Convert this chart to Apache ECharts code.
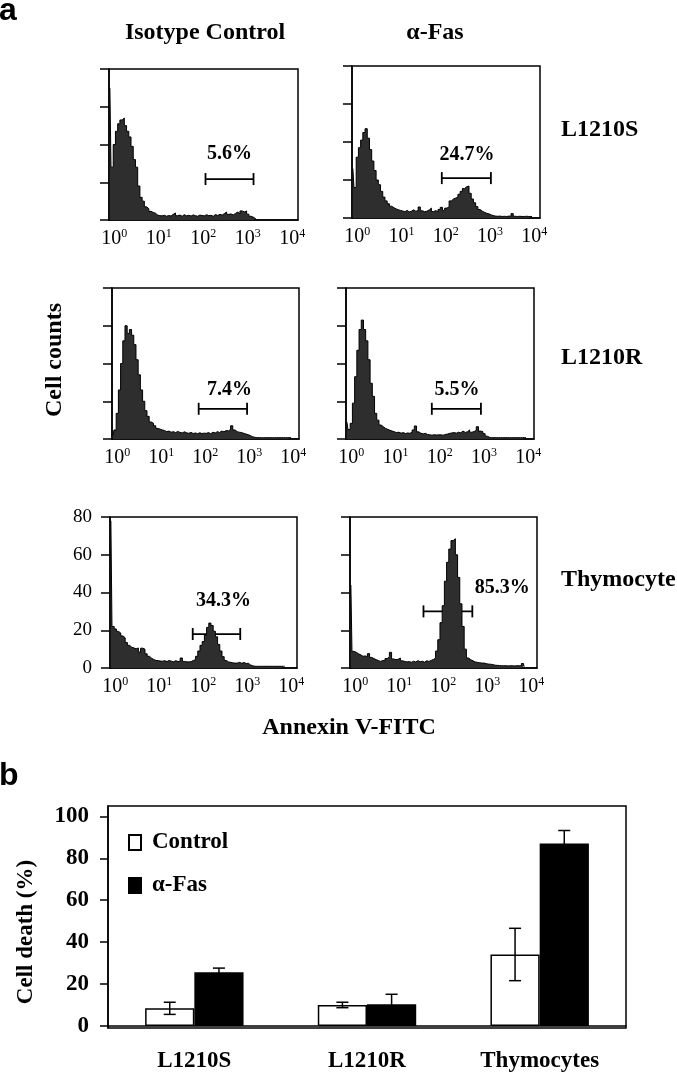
<!DOCTYPE html>
<html>
<head>
<meta charset="utf-8">
<script src="https://cdn.jsdelivr.net/npm/echarts@6/dist/echarts.min.js"></script>
<style>
  html, body { margin: 0; padding: 0; background: #fff; }
  #chart { width: 677px; height: 1077px; }
</style>
</head>
<body>
<div id="chart"></div>
<script>
const SERIF = '"Liberation Serif", "DejaVu Serif", serif';
const SANS = '"Liberation Sans", Arial, sans-serif';

// ---- panel a: Annexin V-FITC histograms (x in log10 decades, y = cell counts)
const binStart = -0.1;
const binStep = 0.05;
const decadeTicks = [0, 1, 2, 3, 4];

const histIsoS = [
  70, 28, 40, 47, 51, 53, 54, 50, 47, 44,
  39, 32, 28, 18, 12, 10, 7, 6, 4.6, 4,
  3.6, 2.6, 2.3, 2.2, 2.5, 2, 2.4, 2.1, 3, 3.7,
  2.3, 2.6, 2, 2.8, 2.2, 2.5, 2.1, 2.7, 2.3, 2.0,
  2.6, 2.4, 2.2, 2.8, 2.3, 2.5, 2.0, 2.9, 2.4, 3.0,
  2.6, 3.4, 4.2, 3.0, 3.2, 2.7, 3.5, 4.2, 3.3, 4.8,
  4.3, 4.8, 3.1, 2.0, 1.5, 0.8, 0
];
const histFasS = [
  26, 16, 32, 37, 41, 45, 47, 42, 36, 30,
  25, 20, 17.5, 14, 11, 9, 7.5, 6.2, 5.5, 4.8,
  4.4, 4, 3.7, 3.3, 4.0, 3.2, 3.6, 4.3, 3.5, 4.0,
  5.8, 3.8, 3.3, 3.6, 4.2, 5.2, 3.4, 3.9, 3.2, 4.5,
  5.6, 4.0, 5.2, 5.8, 9, 10, 10.5, 11, 12.5, 14,
  15.5, 16.5, 16.8, 13, 10, 8, 6, 4.5, 3.6, 3,
  2.5, 2.2, 1.6, 1.3, 1.0, 0.9, 1.0, 0.8, 0.9, 0.8,
  1.0, 0.9, 2.3, 0.9, 0.8, 0.9, 0.8, 0.8, 0.9, 0.8,
  0.8, 0.8
];
const histIsoR = [
  2, 4.8, 13.6, 26, 40, 52, 60, 56, 58, 55,
  50, 42, 34, 26, 20, 15, 12, 9, 8.3, 7,
  5.6, 5.2, 4.8, 4.5, 3.9, 4.2, 3.6, 3.9, 3.4, 4.0,
  3.5, 3.2, 3.8, 3.3, 3.0, 3.5, 2.9, 3.2, 2.8, 3.3,
  2.9, 3.1, 3.0, 3.4, 2.8, 3.6, 3.2, 3.9, 3.5, 4.2,
  3.8, 4.5, 4.3, 5.0, 7.0, 4.8, 3.9, 3.6, 3.4, 3.0,
  2.6, 2.3, 1.8, 1.2, 0.9, 0.7, 0.7, 0.7, 0.7, 0.7,
  0.7, 0.7, 0.7, 0.7, 0.7, 0.7, 0.7, 0.7, 0.7, 0.7,
  0.7, 0.7
];
const histFasR = [
  9, 5, 8.3, 19, 33, 47, 58, 63, 58, 52,
  42, 29.5, 22.6, 13.6, 10, 7.4, 6.5, 5.6, 5.1, 4.6,
  4.2, 3.8, 3.4, 3.6, 3.1, 3.4, 2.9, 3.2, 3.0, 3.6,
  4.8, 6.9, 3.8, 3.0, 2.7, 3.0, 2.4, 2.2, 2.0, 2.3,
  2.1, 2.2, 2.2, 2.0, 2.4, 2.6, 3.0, 3.2, 3.4, 3.1,
  3.6, 3.3, 4.2, 3.5, 3.8, 4.8, 3.6, 3.9, 4.6, 6.5,
  4.2, 3.9, 2.8, 1.5, 0.9, 0.7, 0.7, 0.7, 0.7, 0.7,
  0.7, 0.7, 0.7, 0.7, 0.7, 0.7, 0.7, 0.7, 0.7, 0.7,
  0.7, 0.7
];
const histIsoT = [
  78, 22, 20.7, 19.4, 18.5, 17, 16, 13.5, 12, 11,
  10.6, 10.2, 10.6, 8.5, 10.5, 10, 7.5, 6.2, 5.2, 4.5,
  4.0, 3.9, 3.7, 3.6, 3.9, 3.4, 4.0, 3.6, 3.3, 3.9,
  3.4, 3.6, 5.3, 3.5, 3.3, 3.2, 3.4, 4.0, 4.5, 6.2,
  9, 12, 14, 17.5, 21.5, 23.8, 22.5, 19.5, 16.5, 12.5,
  9, 6, 4, 3.2, 3, 2.7, 2.6, 2.6, 3.0, 2.5,
  2.9, 2.4, 2.5, 1.6, 1.2, 0.9, 0.9, 0.9, 0.9, 0.9,
  0.9, 0.9, 0.9, 0.9, 0.9, 0.9, 0.9, 0.9, 0.9, 0.9
];
const histFasT = [
  44, 8.8, 8.3, 7.5, 7.0, 6.2, 6.4, 6.0, 7.6, 5.6,
  5.0, 4.4, 4.0, 3.5, 4.0, 3.8, 5.0, 6.0, 8.3, 4.8,
  4.4, 4.6, 5.3, 3.8, 3.5, 3.2, 3.4, 3.0, 3.6, 3.2,
  3.9, 3.3, 3.6, 3.1, 3.8, 3.5, 4.0, 4.5, 5.3, 9,
  15, 24, 33, 46, 56, 63, 67.5, 68.5, 60, 48,
  34, 22, 10, 5.3, 4.4, 3.8, 3.2, 3.0, 2.8, 2.6,
  2.6, 2.3, 2.1, 2.0, 1.8, 1.5, 1.4, 1.3, 1.2, 1.2,
  1.2, 1.1, 1.2, 1.2, 1.1, 1.2, 1.2, 1.2, 2.4, 1.0
];

// order: L1210S iso, L1210S fas, L1210R iso, L1210R fas, thymocyte iso, thymocyte fas
const histograms = [histIsoS, histFasS, histIsoR, histFasR, histIsoT, histFasT];
const gateLo = [2.05, 1.91, 1.85, 1.82, 1.76, 1.55];
const gateHi = [3.13, 3.02, 2.95, 2.93, 2.84, 2.66];
const gateY = [21.7, 21, 16, 16, 18, 30];
const gateText = ['5.6%', '24.7%', '7.4%', '5.5%', '34.3%', '85.3%'];
const gateTextX = [2.59, 2.48, 2.55, 2.39, 2.46, 3.34];
const gateTextY = [35, 33, 26, 26, 35.5, 42.4];

// ---- panel b: cell death bars
const cellLines = ['L1210S', 'L1210R', 'Thymocytes'];
const controlDeath = [8.4, 10.0, 34.1];
const controlErr = [2.9, 1.3, 12.5];
const fasDeath = [25.6, 10.3, 87.1];
const fasErr = [2.0, 4.8, 6.2];
const deathTicks = [0, 20, 40, 60, 80, 100];

// layout of the six histogram frames: [left, top, width, height]
const histBoxes = [
  [109, 69, 189, 151],
  [352, 66, 188, 152],
  [112, 288, 187, 151],
  [346, 288, 188, 151],
  [110, 517, 187, 151],
  [350, 517, 187, 151]
];

const chart = echarts.init(document.getElementById('chart'));

const grids = [];
const xAxes = [];
const yAxes = [];
const series = [];

histograms.forEach((hist, i) => {
  const [l, t, w, h] = histBoxes[i];
  grids.push({
    left: l, top: t, width: w, height: h,
    show: true, borderColor: '#000', borderWidth: 1.5
  });
  xAxes.push({
    gridIndex: i, type: 'value', min: -0.12, max: 4.13,
    splitLine: { show: false },
    axisTick: { show: false },
    axisLine: { onZero: false, lineStyle: { color: '#000', width: 1.5 } },
    axisLabel: {
      customValues: decadeTicks,
      margin: 8,
      formatter: (v) => '{n|10}{s|' + v + '}',
      rich: {
        n: { fontFamily: SERIF, fontSize: 20, color: '#000', lineHeight: 22 },
        s: { fontFamily: SERIF, fontSize: 12, color: '#000', lineHeight: 12, verticalAlign: 'top' }
      }
    }
  });
  yAxes.push({
    gridIndex: i, type: 'value', min: 0, max: 80, interval: 20,
    splitLine: { show: false },
    axisLine: { show: true, onZero: false, lineStyle: { color: '#000', width: 1.5 } },
    axisTick: { show: true, length: 9, lineStyle: { color: '#000', width: 1.5 } },
    axisLabel: {
      show: i === 4, margin: 18,
      fontFamily: SERIF, fontSize: 19, color: '#000'
    }
  });
  series.push({
    type: 'line', xAxisIndex: i, yAxisIndex: i,
    data: hist.map((v, k) => [binStart + k * binStep, v]),
    step: 'middle', symbol: 'none', silent: true,
    lineStyle: { color: '#000', width: 1 },
    areaStyle: { color: '#2e2e2e', opacity: 1 }
  });
  // gate bar with its percentage
  series.push({
    type: 'custom', xAxisIndex: i, yAxisIndex: i, silent: true,
    data: [[gateLo[i], gateHi[i], gateY[i], gateTextX[i], gateTextY[i]]],
    renderItem: (params, api) => {
      const p0 = api.coord([api.value(0), api.value(2)]);
      const p1 = api.coord([api.value(1), api.value(2)]);
      const pt = api.coord([api.value(3), api.value(4)]);
      const st = { stroke: '#000', lineWidth: 1.8 };
      return {
        type: 'group',
        children: [
          { type: 'line', shape: { x1: p0[0], y1: p0[1], x2: p1[0], y2: p1[1] }, style: st },
          { type: 'line', shape: { x1: p0[0], y1: p0[1] - 6, x2: p0[0], y2: p0[1] + 6 }, style: st },
          { type: 'line', shape: { x1: p1[0], y1: p1[1] - 6, x2: p1[0], y2: p1[1] + 6 }, style: st },
          {
            type: 'text', x: pt[0], y: pt[1],
            style: {
              text: gateText[i],
              fontFamily: SERIF, fontWeight: 'bold', fontSize: 20,
              fill: '#000', align: 'center', verticalAlign: 'middle'
            }
          }
        ]
      };
    }
  });
});

// bar chart grid
const b = histograms.length;
const barGapCat = 0.43;
grids.push({
  left: 108, top: 806, width: 518, height: 222,
  show: true, borderColor: '#000', borderWidth: 1.5
});
xAxes.push({
  gridIndex: b, type: 'category', data: cellLines,
  axisTick: { show: false },
  axisLine: { lineStyle: { color: '#000', width: 1.5 } },
  axisLabel: { margin: 22, fontFamily: SERIF, fontWeight: 'bold', fontSize: 23, color: '#000' }
});
yAxes.push({
  gridIndex: b, type: 'value', min: -1, max: 105,
  splitLine: { show: false },
  axisLine: { show: true, lineStyle: { color: '#000', width: 1.5 } },
  axisTick: { show: true, length: 8, customValues: deathTicks, lineStyle: { color: '#000', width: 1.5 } },
  axisLabel: {
    customValues: deathTicks, margin: 19,
    fontFamily: SERIF, fontWeight: 'bold', fontSize: 23, color: '#000'
  }
});
series.push({
  name: 'Control', type: 'bar', xAxisIndex: b, yAxisIndex: b,
  data: controlDeath, barGap: '0%', barCategoryGap: (barGapCat * 100) + '%',
  itemStyle: { color: '#fff', borderColor: '#000', borderWidth: 1.5 }
});
series.push({
  name: 'α-Fas', type: 'bar', xAxisIndex: b, yAxisIndex: b,
  data: fasDeath,
  itemStyle: { color: '#000', borderColor: '#000', borderWidth: 1.5 }
});

function errorSeries(means, errs, side) {
  return {
    type: 'custom', xAxisIndex: b, yAxisIndex: b, silent: true, z: 5,
    data: means.map((m, k) => [k, m - errs[k], m + errs[k]]),
    renderItem: (params, api) => {
      const band = api.size([1, 0])[0];
      const off = side * band * (1 - barGapCat) / 4;
      const lo = api.coord([api.value(0), api.value(1)]);
      const hi = api.coord([api.value(0), api.value(2)]);
      const x = lo[0] + off;
      const st = { stroke: '#000', lineWidth: 1.5 };
      return {
        type: 'group',
        children: [
          { type: 'line', shape: { x1: x, y1: lo[1], x2: x, y2: hi[1] }, style: st },
          { type: 'line', shape: { x1: x - 6, y1: hi[1], x2: x + 6, y2: hi[1] }, style: st },
          { type: 'line', shape: { x1: x - 6, y1: lo[1], x2: x + 6, y2: lo[1] }, style: st }
        ]
      };
    }
  };
}
series.push(errorSeries(controlDeath, controlErr, -1));
series.push(errorSeries(fasDeath, fasErr, 1));

function label(text, x, y, size, align, rotation) {
  return {
    type: 'text', x: x, y: y, rotation: rotation || 0,
    style: {
      text: text, fontFamily: SERIF, fontWeight: 'bold', fontSize: size,
      fill: '#000', align: align || 'center', verticalAlign: 'middle'
    }
  };
}

const option = {
  animation: false,
  backgroundColor: '#fff',
  grid: grids,
  xAxis: xAxes,
  yAxis: yAxes,
  series: series,
  legend: {
    data: ['Control', 'α-Fas'],
    orient: 'vertical', left: 123, top: 826,
    itemWidth: 12, itemHeight: 15, itemGap: 20, icon: 'rect',
    selectedMode: false,
    textStyle: { fontFamily: SERIF, fontWeight: 'bold', fontSize: 23, color: '#000', padding: [0, 0, 0, 6] }
  },
  graphic: [
    { type: 'text', x: -1, y: 27, style: { text: 'a', fontFamily: SANS, fontWeight: 'bold', fontSize: 32, fill: '#000', align: 'left', verticalAlign: 'bottom' } },
    { type: 'text', x: -1, y: 792, style: { text: 'b', fontFamily: SANS, fontWeight: 'bold', fontSize: 32, fill: '#000', align: 'left', verticalAlign: 'bottom' } },
    label('Isotype Control', 205, 33, 24),
    label('α-Fas', 435, 33, 24),
    label('L1210S', 561, 130, 24, 'left'),
    label('L1210R', 561, 358, 24, 'left'),
    label('Thymocyte', 561, 580, 24, 'left'),
    label('Cell counts', 55, 360, 24, 'center', Math.PI / 2),
    label('Annexin V-FITC', 349, 728, 24),
    label('Cell death (%)', 26, 932, 23, 'center', Math.PI / 2)
  ]
};

chart.setOption(option);
</script>
</body>
</html>
